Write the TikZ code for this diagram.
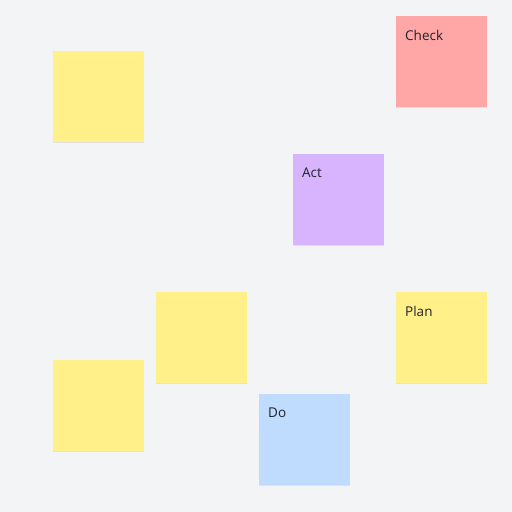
\documentclass[tikz,border=0pt]{standalone}
\usepackage{fontspec}
\setmainfont{Open Sans}
\usepackage{xcolor}
\usepackage{tikz}
\usetikzlibrary{shadows}
\definecolor{Board}{HTML}{F2F4F6}
\definecolor{NoteYellow}{HTML}{FFF08A}
\definecolor{NoteRed}{HTML}{FFA6A6}
\definecolor{NotePurple}{HTML}{D8B4FE}
\definecolor{NoteBlue}{HTML}{BFDBFE}
\definecolor{Ink}{HTML}{1F2329}

\begin{document}
\begin{tikzpicture}[x=1pt, y=-1pt,
  sticky/.style={fill=NoteYellow, minimum width=91pt, minimum height=91pt,
    inner sep=0pt, anchor=north west,
    drop shadow={shadow xshift=0pt, shadow yshift=-1pt, opacity=0.07, fill=black}},
  caption/.style={font=\fontsize{13.5}{16}\selectfont, text=Ink, inner sep=0pt, anchor=north west}
]
  \fill[Board] (0,0) rectangle (512,512);
  \useasboundingbox (0,0) rectangle (512,512);

  \node[sticky] (blank1) at (53,51) {};
  \node[sticky, fill=NoteRed] (check) at (396,16) {};
  \node[sticky, fill=NotePurple] (act) at (293,154) {};
  \node[sticky] (blank2) at (156,292) {};
  \node[sticky] (plan) at (396,292) {};
  \node[sticky] (blank3) at (53,360) {};
  \node[sticky, fill=NoteBlue] (do) at (259,394) {};

  \node[caption] (checkT) at ([shift={(9,14)}]check.north west) {Check};
  \node[caption] (actT) at ([shift={(9,14)}]act.north west) {Act};
  \node[caption] (planT) at ([shift={(9,14)}]plan.north west) {Plan};
  \node[caption] (doT) at ([shift={(9,14)}]do.north west) {Do};
\end{tikzpicture}
\end{document}
